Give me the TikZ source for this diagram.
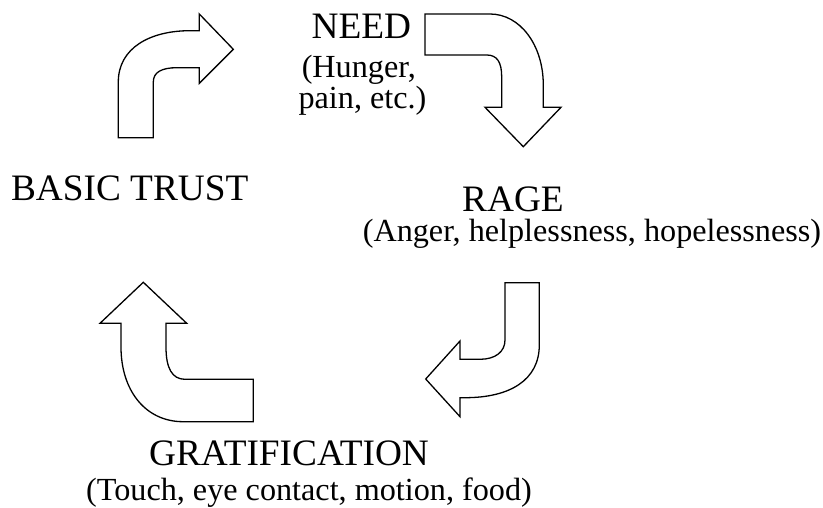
\documentclass[tikz,border=0pt]{standalone}
\usepackage{fontspec}
\setmainfont{Liberation Serif}
\begin{document}
\begin{tikzpicture}[x=1pt,y=-1pt,
  blockarrow/.style={draw=black,line width=1.3pt,fill=white,line join=miter},
  big/.style={inner sep=0pt,anchor=base,font=\fontsize{37.3}{41}\selectfont},
  small/.style={inner sep=0pt,anchor=base,font=\fontsize{32.2}{36}\selectfont}]
\useasboundingbox (0,0) rectangle (823,508);
% labels
\node[big] (need) at (361.3,39) {NEED};
\node[small] (needa) at (358.8,77.3) {(Hunger,};
\node[small] (needb) at (362.5,108.3) {pain, etc.)};
\node[big] (trust) at (129.7,200.7) {BASIC TRUST};
\node[big] (rage) at (513,211.7) {RAGE};
\node[small] (ragesub) at (592,241.7) {(Anger, helplessness, hopelessness)};
\node[big] (grat) at (289,465) {GRATIFICATION};
\node[small] (gratsub) at (309,500) {(Touch, eye contact, motion, food)};
% arrow 1: basic trust -> need
\draw[blockarrow] (118.3,137.7) -- (118.3,82)
  .. controls (118.3,48) and (150,30.7) .. (190,30.7) -- (199.3,30.7)
  -- (199.3,14) -- (233.3,49.3) -- (199.3,83.3) -- (199.3,67.7) -- (177,67.7)
  .. controls (162,67.7) and (153.3,72) .. (153.3,82) -- (153.3,137.7) -- cycle;
% arrow 2: need -> rage
\draw[blockarrow] (425,14) -- (490,14)
  .. controls (520,14) and (543.3,45) .. (543.3,85) -- (543.3,107.3)
  -- (561,107.3) -- (523.3,146.7) -- (485,107.3) -- (501.7,107.3) -- (501.7,77)
  .. controls (501.7,62) and (497,55) .. (486.7,55) -- (425,55) -- cycle;
% arrow 3: rage -> gratification
\draw[blockarrow] (505,282.7) -- (539.3,282.7) -- (539.3,345)
  .. controls (539.3,380) and (510,397.7) .. (465,397.7) -- (460,397.7)
  -- (460,416.7) -- (425.7,379) -- (460,341) -- (460,359.3) -- (480,359.3)
  .. controls (495,359.3) and (505,352) .. (505,340) -- cycle;
% arrow 4: gratification -> basic trust
\draw[blockarrow] (143.3,282.3) -- (186.7,323.3) -- (166,323.3) -- (166,347)
  .. controls (166,368) and (172,379.3) .. (185,379.3) -- (253.3,379.3)
  -- (253.3,421.7) -- (183.3,421.7)
  .. controls (145,421.7) and (121,390) .. (121,347) -- (121,323.3)
  -- (100,323.3) -- cycle;
\end{tikzpicture}
\end{document}
